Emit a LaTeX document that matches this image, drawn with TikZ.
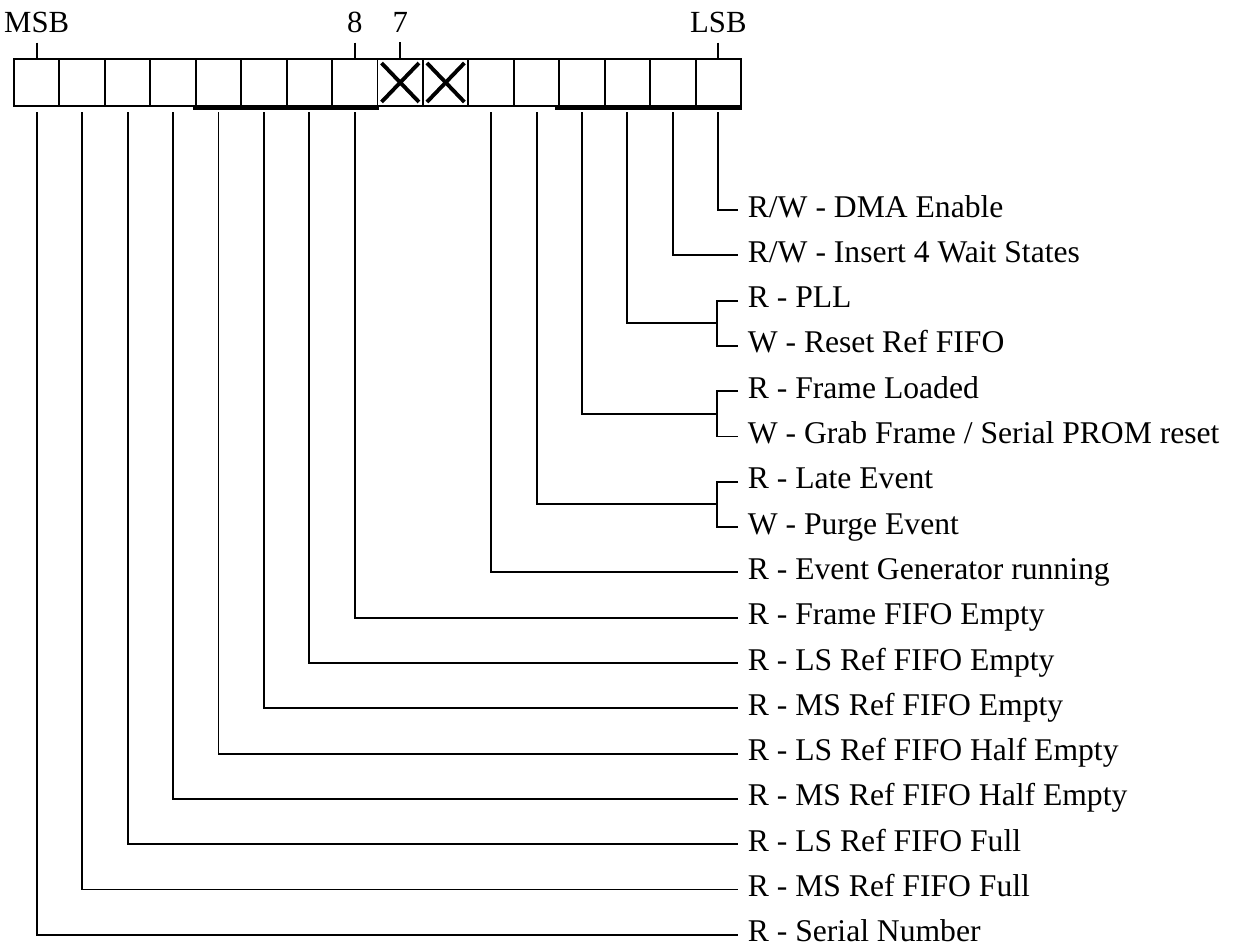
\documentclass[tikz,border=0pt]{standalone}
\usepackage{fontspec}
\setmainfont{Liberation Serif}
\usepackage{tikz}
\usetikzlibrary{positioning, calc}

\begin{document}
\begin{tikzpicture}[x=0.02cm, y=-0.02cm,
  cell/.style={draw, line width=1.1pt, minimum width=0.9088cm, minimum height=0.94cm, inner sep=0pt, outer sep=0pt},
  wire/.style={line width=1.1pt},
  drop/.style={wire, shorten <=0.13cm},
  nibble/.style={line width=2.8pt},
  xmark/.style={line width=2.2pt},
  toplbl/.style={anchor=base, inner sep=0.18cm, font=\fontsize{17.5}{19}\selectfont},
  bitlbl/.style={anchor=west, inner xsep=0.19cm, inner ysep=0pt, text height=8pt, text depth=0pt, font=\fontsize{18}{20}\selectfont}]
  \useasboundingbox (0,0) rectangle (1239,946);

  \foreach \b in {0,...,15}
    \node[cell] (bit\b) at ({14+45.44*(15.5-\b)},82.5) {};

  \foreach \b in {7,6}
    \draw[xmark] ([xshift=0.08cm,yshift=-0.08cm]bit\b.north west) -- ([xshift=-0.08cm,yshift=0.08cm]bit\b.south east)
                 ([xshift=-0.08cm,yshift=-0.08cm]bit\b.north east) -- ([xshift=0.08cm,yshift=0.08cm]bit\b.south west);

  \draw[nibble] ([xshift=-0.05cm,yshift=-0.03cm]bit11.south west) -- ([xshift=0.03cm,yshift=-0.03cm]bit8.south east);
  \draw[nibble] ([xshift=-0.08cm,yshift=-0.03cm]bit3.south west) -- ([xshift=0.02cm,yshift=-0.03cm]bit0.south east);

  \node[toplbl] (msb) at (bit15 |- 0,33) {MSB};
  \node[toplbl] (b8) at (bit8 |- 0,33) {8};
  \node[toplbl] (b7) at (bit7 |- 0,33) {7};
  \node[toplbl] (lsb) at (bit0 |- 0,33) {LSB};
  \draw[wire] (msb.south) -- (bit15.north);
  \draw[wire] (b8.south) -- (bit8.north);
  \draw[wire] (b7.south) -- (bit7.north);
  \draw[wire] (lsb.south) -- (bit0.north);

  \node[bitlbl] (dma) at (738,210) {R/W - DMA Enable};
  \node[bitlbl] (wait) at (738,255.3) {R/W - Insert 4 Wait States};
  \node[bitlbl] (pll) at (738,300.6) {R - PLL};
  \node[bitlbl] (rstref) at (738,345.9) {W - Reset Ref FIFO};
  \node[bitlbl] (frmld) at (738,391.2) {R - Frame Loaded};
  \node[bitlbl] (grab) at (738,436.5) {W - Grab Frame / Serial PROM reset};
  \node[bitlbl] (late) at (738,481.8) {R - Late Event};
  \node[bitlbl] (purge) at (738,527.1) {W - Purge Event};
  \node[bitlbl] (evgen) at (738,572.4) {R - Event Generator running};
  \node[bitlbl] (frmempty) at (738,617.7) {R - Frame FIFO Empty};
  \node[bitlbl] (lsempty) at (738,663) {R - LS Ref FIFO Empty};
  \node[bitlbl] (msempty) at (738,708.3) {R - MS Ref FIFO Empty};
  \node[bitlbl] (lshalf) at (738,753.6) {R - LS Ref FIFO Half Empty};
  \node[bitlbl] (mshalf) at (738,798.9) {R - MS Ref FIFO Half Empty};
  \node[bitlbl] (lsfull) at (738,844.2) {R - LS Ref FIFO Full};
  \node[bitlbl] (msfull) at (738,889.5) {R - MS Ref FIFO Full};
  \node[bitlbl] (serial) at (738,934.8) {R - Serial Number};

  \coordinate (jpll) at (717,323.25);
  \coordinate (jfrm) at (717,413.85);
  \coordinate (jlate) at (717,504.45);

  \draw[wire] (pll.west) -| (jpll) |- (rstref.west);
  \draw[wire] (frmld.west) -| (jfrm) |- (grab.west);
  \draw[wire] (late.west) -| (jlate) |- (purge.west);

  \draw[drop] (bit0.south) |- (dma.west);
  \draw[drop] (bit1.south) |- (wait.west);
  \draw[drop] (bit2.south) |- (jpll);
  \draw[drop] (bit3.south) |- (jfrm);
  \draw[drop] (bit4.south) |- (jlate);
  \draw[drop] (bit5.south) |- (evgen.west);
  \draw[drop] (bit8.south) |- (frmempty.west);
  \draw[drop] (bit9.south) |- (lsempty.west);
  \draw[drop] (bit10.south) |- (msempty.west);
  \draw[drop] (bit11.south) |- (lshalf.west);
  \draw[drop] (bit12.south) |- (mshalf.west);
  \draw[drop] (bit13.south) |- (lsfull.west);
  \draw[drop] (bit14.south) |- (msfull.west);
  \draw[drop] (bit15.south) |- (serial.west);
\end{tikzpicture}
\end{document}
